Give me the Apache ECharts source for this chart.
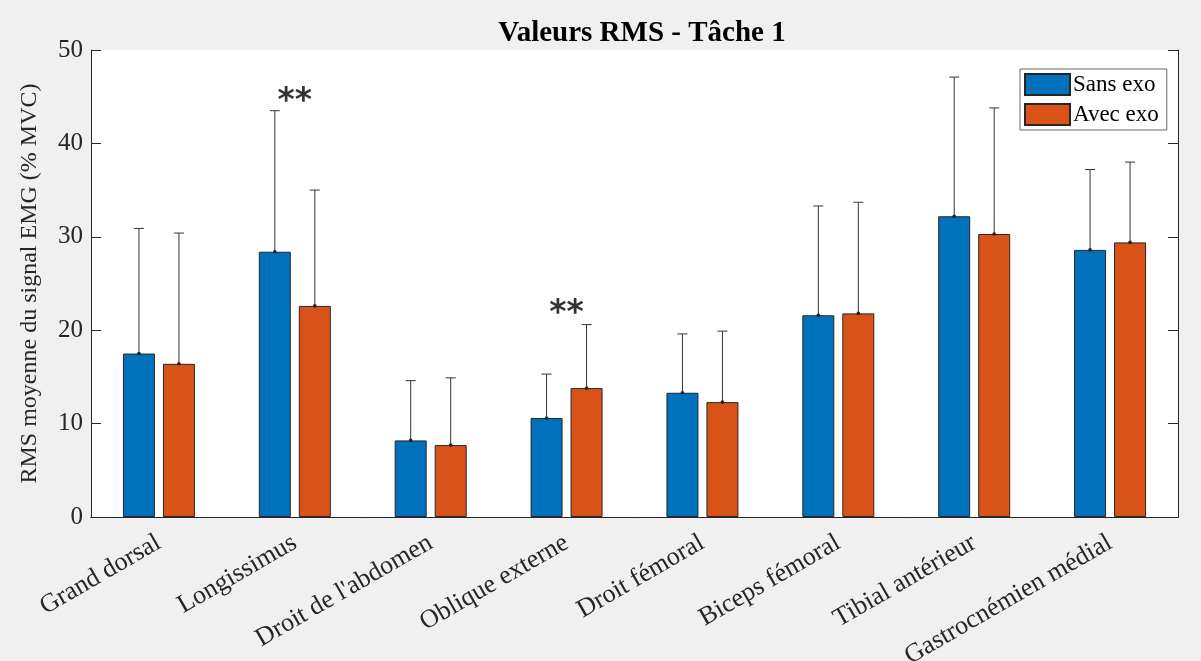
<!DOCTYPE html>
<html>
<head>
<meta charset="utf-8">
<script src="https://cdn.jsdelivr.net/npm/echarts@6/dist/echarts.min.js"></script>
<style>
  html, body { margin: 0; padding: 0; background: #f0f0f0; }
  #main { width: 1201px; height: 661px; }
</style>
</head>
<body>
<div id="main"></div>
<script>
// données
var muscles = ['Grand dorsal', 'Longissimus', "Droit de l'abdomen", 'Oblique externe',
               'Droit fémoral', 'Biceps fémoral', 'Tibial antérieur', 'Gastrocnémien médial'];
var sansExo = [17.5, 28.4, 8.2, 10.6, 13.3, 21.6, 32.2, 28.6];
var avecExo = [16.4, 22.6, 7.7, 13.8, 12.3, 21.8, 30.3, 29.4];
var sansExoHaut = [30.9, 43.5, 14.6, 15.3, 19.6, 33.3, 47.1, 37.2];
var avecExoHaut = [30.4, 35.0, 14.9, 20.6, 19.9, 33.7, 43.8, 38.0];
// positions des étoiles de significativité : [indice catégorie, valeur]
var signif = [[1, 45.4], [3, 22.6]];

var serif = "'Liberation Serif', 'Times New Roman', serif";
var axisCol = '#262626';
var BAR_W = 32, BAR_GAP = 8;

function errBar(dir, tops) {
  return {
    type: 'custom',
    silent: true,
    z: 5,
    data: tops.map(function (t, i) { return [i, dir < 0 ? sansExo[i] : avecExo[i], t]; }),
    renderItem: function (params, api) {
      var off = dir * (BAR_W + BAR_GAP) / 2;
      var b = api.coord([api.value(0), api.value(1)]);
      var t = api.coord([api.value(0), api.value(2)]);
      var x = b[0] + off;
      var st = { stroke: '#333', lineWidth: 1 };
      return {
        type: 'group',
        children: [
          { type: 'line', shape: { x1: x, y1: b[1], x2: x, y2: t[1] }, style: st },
          { type: 'line', shape: { x1: x - 5, y1: t[1], x2: x + 5, y2: t[1] }, style: st },
          { type: 'circle', shape: { cx: x, cy: b[1], r: 1.8 }, style: { fill: '#222' } }
        ]
      };
    }
  };
}

var chart = echarts.init(document.getElementById('main'));
chart.setOption({
  backgroundColor: '#f0f0f0',
  animation: false,
  title: {
    text: 'Valeurs RMS - Tâche 1',
    left: 637, top: 14, textAlign: 'center',
    textStyle: { fontFamily: serif, fontSize: 29, fontWeight: 'bold', color: '#000' }
  },
  legend: {
    data: ['Sans exo', 'Avec exo'],
    orient: 'vertical',
    left: 1020, top: 69,
    padding: [4, 8, 4, 4],
    itemGap: 7,
    itemWidth: 45, itemHeight: 21,
    icon: 'rect',
    backgroundColor: '#fff',
    borderColor: '#666', borderWidth: 1, borderRadius: 0,
    textStyle: { fontFamily: serif, fontSize: 23, color: '#000', padding: [0, 0, 0, -2] }
  },
  grid: {
    left: 91, right: 23, top: 50, bottom: 144,
    containLabel: false, outerBoundsMode: 'none',
    show: true, backgroundColor: '#fff', borderWidth: 0
  },
  xAxis: [{
    type: 'category',
    data: muscles,
    axisLine: { lineStyle: { color: axisCol } },
    axisTick: { inside: true, length: 10, alignWithLabel: true, lineStyle: { color: axisCol } },
    axisLabel: { rotate: 30, margin: 24, fontFamily: serif, fontSize: 26, color: '#262626', interval: 0 }
  }, {
    type: 'category',
    data: muscles,
    position: 'top',
    axisLine: { lineStyle: { color: axisCol } },
    axisTick: { inside: true, length: 10, alignWithLabel: true, lineStyle: { color: axisCol } },
    axisLabel: { show: false }
  }],
  yAxis: [{
    type: 'value',
    min: 0, max: 50, interval: 10,
    name: 'RMS moyenne du signal EMG (% MVC)',
    nameLocation: 'middle',
    nameGap: 49,
    nameTextStyle: { fontFamily: serif, fontSize: 24, color: '#262626' },
    axisLine: { show: true, lineStyle: { color: axisCol } },
    axisTick: { show: true, inside: true, length: 10, lineStyle: { color: axisCol } },
    axisLabel: { margin: 8, fontFamily: serif, fontSize: 25, color: '#262626' },
    splitLine: { show: false }
  }, {
    type: 'value',
    min: 0, max: 50, interval: 10,
    position: 'right',
    axisLine: { show: true, lineStyle: { color: axisCol } },
    axisTick: { show: true, inside: true, length: 10, lineStyle: { color: axisCol } },
    axisLabel: { show: false },
    splitLine: { show: false }
  }],
  series: [{
    name: 'Sans exo',
    type: 'bar',
    data: sansExo,
    barWidth: BAR_W,
    barGap: (BAR_GAP / BAR_W * 100) + '%',
    itemStyle: { color: '#0072BD', borderColor: '#262626', borderWidth: 1 }
  }, {
    name: 'Avec exo',
    type: 'bar',
    data: avecExo,
    barWidth: BAR_W,
    itemStyle: { color: '#D95319', borderColor: '#262626', borderWidth: 1 }
  },
  errBar(-1, sansExoHaut),
  errBar(1, avecExoHaut),
  {
    type: 'scatter',
    data: signif,
    symbolSize: 1,
    itemStyle: { color: 'rgba(0,0,0,0)' },
    silent: true,
    label: {
      show: true, position: 'inside', formatter: '**', offset: [0, 9],
      fontFamily: "'DejaVu Sans', sans-serif", fontSize: 33, fontWeight: 'bold', color: '#000'
    }
  }]
});
</script>
</body>
</html>
